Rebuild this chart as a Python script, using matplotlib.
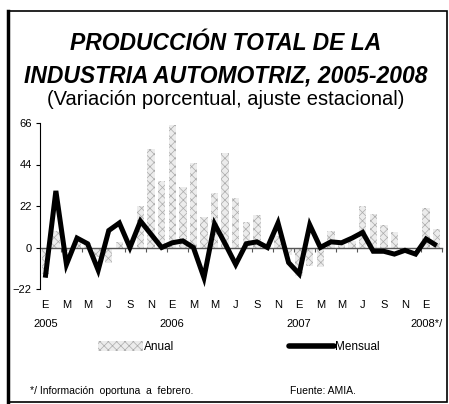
import numpy as np
import matplotlib
matplotlib.use('Agg')
import matplotlib.pyplot as plt
import matplotlib.transforms as mtransforms
from matplotlib.lines import Line2D
from matplotlib.patches import Rectangle, Patch

plt.rcParams['font.family'] = ['Liberation Sans', 'DejaVu Sans']
plt.rcParams['hatch.linewidth'] = 0.5

# meses ene-2005 .. feb-2008
months = ['E', 'F', 'M', 'A', 'M', 'J', 'J', 'A', 'S', 'O', 'N', 'D'] * 3 + ['E', 'F']
years = ['2005', '2006', '2007', '2008*/']
year_start = [0, 12, 24, 36]

anual = [-14, 9, -2, 3, 2.5, -5, -8, 3, 1, 22, 52, 35,
         65, 32, 45, 16, 29, 50, 26, 13.5, 17, 2, 6, -4,
         -15, -10, -10.5, 9, 1.5, 3.5, 22, 18, 12, 8, -3, -1,
         21, 10]
mensual = [-16, 30, -9, 5, 2, -12, 9, 13, 0, 14, 7, 0,
           2.5, 3.5, 0, -16, 12.5, 2, -9, 2, 3, 0, 13, -8,
           -14, 12, 0, 3, 2.5, 5, 8, -2, -2, -3.5, -1.5, -3.5,
           4.5, 1]
yticks = [-22, 0, 22, 44, 66]

n = len(months)
x = np.arange(n)

bar_face = '#ececec'
bar_hatch = '#ababab'

fig = plt.figure(figsize=(4.49, 4.04), dpi=100)
W, H = 449, 404
ax = fig.add_axes([40 / W, (H - 289) / H, 402 / W, 166 / H])

ax.bar(x, anual, 0.7, color=bar_face, edgecolor=bar_hatch, hatch='xxxx', linewidth=0, zorder=1)
ax.plot(x, mensual, color='black', lw=3.6, solid_joinstyle='miter', solid_capstyle='butt', zorder=3)

ax.set_xlim(-0.5, n - 0.5)
ax.set_ylim(-22, 66)
ax.set_yticks(yticks)
ax.tick_params(axis='y', direction='out', length=3, width=0.8, labelsize=8, pad=3)

ax.spines['top'].set_visible(False)
ax.spines['right'].set_visible(False)
ax.spines['left'].set_linewidth(0.8)
ax.spines['bottom'].set_position(('data', 0))
ax.spines['bottom'].set_color('#555555')
ax.spines['bottom'].set_linewidth(1.0)
ax.spines['bottom'].set_zorder(2)
ax.set_xticks(np.arange(-0.5, n, 2))
ax.tick_params(axis='x', direction='out', length=3, width=0.8, color='#555555', labelbottom=False)

trans = mtransforms.blended_transform_factory(ax.transData, ax.transAxes)
for i in range(0, n, 2):
    ax.text(i, -0.1145, months[i], transform=trans, ha='center', va='baseline', fontsize=8)
for i, yr in zip(year_start, years):
    ax.text(i, -0.229, yr, transform=trans, ha='center', va='baseline', fontsize=8)

# titulos
fig.text(226 / W, 1 - 50 / H, 'PRODUCCIÓN TOTAL DE LA', ha='center', va='baseline',
         fontsize=16.5, fontweight='bold', fontstyle='italic')
fig.text(226 / W, 1 - 82 / H, 'INDUSTRIA AUTOMOTRIZ, 2005-2008', ha='center', va='baseline',
         fontsize=16.5, fontweight='bold', fontstyle='italic')
fig.text(226 / W, 1 - 105 / H, '(Variación porcentual, ajuste estacional)', ha='center', va='baseline',
         fontsize=14.5)

handles = [Patch(facecolor=bar_face, edgecolor=bar_hatch, hatch='xxxx', linewidth=0),
           Line2D([], [], color='black', lw=4, solid_capstyle='round')]
fig.legend(handles, ['Anual', 'Mensual'], ncol=2, loc='center left',
           bbox_to_anchor=(98 / W, 1 - 347 / H), frameon=False, fontsize=8.5,
           handlelength=3.8, handleheight=0.9, handletextpad=0.1, columnspacing=9.7,
           borderpad=0, borderaxespad=0)

fig.text(30 / W, 1 - 394 / H, '*/ Información  oportuna  a  febrero.', ha='left', va='baseline', fontsize=7.5)
fig.text(290 / W, 1 - 394 / H, 'Fuente: AMIA.', ha='left', va='baseline', fontsize=7.5)

# marco
fig.add_artist(Rectangle((8 / W, 2 / H), 439 / W, 391 / H, transform=fig.transFigure,
                         fill=False, lw=1.2, edgecolor='black'))
fig.add_artist(Line2D([8 / W, 8 / W], [2 / H, 393 / H], transform=fig.transFigure,
                      lw=2.5, color='black'))

fig.savefig('out.png', dpi=100)
